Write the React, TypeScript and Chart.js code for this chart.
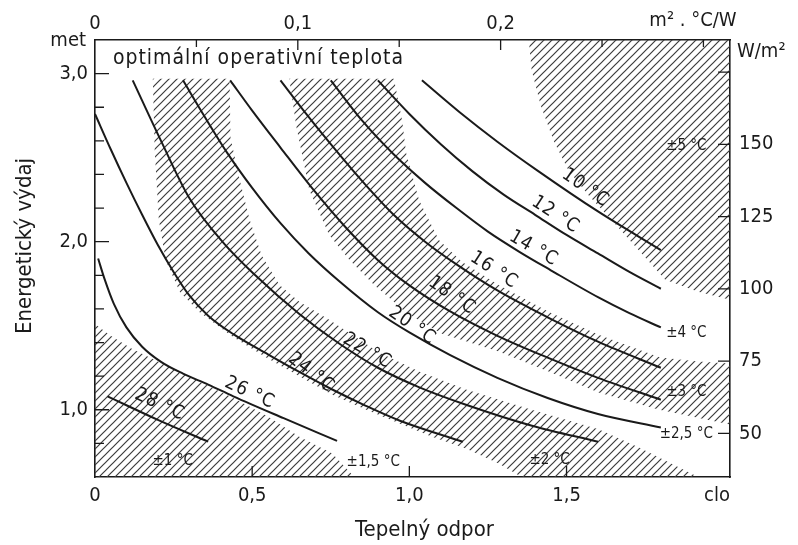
import React, { useEffect, useRef } from "react";
import { Chart, registerables } from "chart.js";

Chart.register(...registerables);

// ---------- axes ----------
const cloRange = [0, 2.02];
const metRange = [0.6, 3.2];
const cloToRes = 0.155; // m2.°C/W per clo
const metToW = 58.15; // W/m2 per met

const cloTicks = [0, 0.5, 1.0, 1.5];
const cloTickLabels = ["0", "0,5", "1,0", "1,5"];
const cloMarks = [0.5, 1.0, 1.5];
const resTicks = [0, 0.1, 0.2];
const resTickLabels = ["0", "0,1", "0,2"];
const resMarks = [0.05, 0.1, 0.15, 0.2, 0.25, 0.3];
const metTicks = [1, 2, 3];
const metTickLabels = ["1,0", "2,0", "3,0"];
const metMarks = [0.8, 1.0, 1.2, 1.4, 1.6, 1.8, 2.0, 2.2, 2.4, 2.6, 2.8, 3.0];
const wTicks = [50, 75, 100, 125, 150];
const wTickLabels = ["50", "75", "100", "125", "150"];
const wMarks = [50, 75, 100, 125, 150, 175];

// ---------- optimal operative temperature curves [clo, met] ----------
const curve10 = [[1.04, 2.96], [1.16, 2.77], [1.28, 2.595], [1.41, 2.42], [1.6, 2.18], [1.8, 1.95]];
const curve12 = [[0.9, 2.96], [1.0, 2.76], [1.1, 2.58], [1.2, 2.42], [1.3, 2.28], [1.4, 2.16], [1.5, 2.04], [1.6, 1.93], [1.7, 1.82], [1.8, 1.72]];
const curve14 = [[0.75, 2.96], [0.85, 2.72], [0.95, 2.52], [1.05, 2.35], [1.15, 2.2], [1.25, 2.06], [1.35, 1.94], [1.45, 1.83], [1.6, 1.67], [1.7, 1.575], [1.8, 1.49]];
const curve16 = [[0.59, 2.96], [0.67, 2.765], [0.75, 2.58], [0.85, 2.36], [0.95, 2.16], [1.05, 2.0], [1.15, 1.865], [1.28, 1.71], [1.44, 1.55], [1.6, 1.405], [1.8, 1.25]];
const curve18 = [[0.43, 2.96], [0.5, 2.78], [0.59, 2.56], [0.69, 2.32], [0.8, 2.08], [0.9, 1.89], [1.0, 1.74], [1.13, 1.585], [1.28, 1.44], [1.44, 1.31], [1.6, 1.19], [1.8, 1.06]];
const curve20 = [[0.28, 2.96], [0.35, 2.74], [0.42, 2.53], [0.5, 2.32], [0.59, 2.11], [0.68, 1.93], [0.78, 1.76], [0.9, 1.58], [1.0, 1.46], [1.13, 1.325], [1.28, 1.19], [1.44, 1.07], [1.6, 0.975], [1.8, 0.895]];
const curve22 = [[0.12, 2.96], [0.21, 2.6], [0.3, 2.26], [0.41, 1.99], [0.51, 1.8], [0.65, 1.57], [0.78, 1.39], [0.9, 1.25], [1.03, 1.135], [1.18, 1.03], [1.39, 0.905], [1.6, 0.81]];
const curve24 = [[0.0, 2.76], [0.05, 2.55], [0.1, 2.35], [0.15, 2.16], [0.2, 1.98], [0.25, 1.82], [0.3, 1.68], [0.36, 1.56], [0.44, 1.45], [0.55, 1.33], [0.65, 1.225], [0.75, 1.125], [0.86, 1.025], [0.97, 0.935], [1.17, 0.81]];
const curve26 = [[0.01, 1.9], [0.03, 1.78], [0.06, 1.63], [0.1, 1.49], [0.15, 1.375], [0.21, 1.285], [0.28, 1.215], [0.36, 1.15], [0.44, 1.08], [0.6, 0.95], [0.77, 0.815]];
const curve28 = [[0.04, 1.08], [0.2, 0.94], [0.36, 0.81]];

// ---------- tolerance zones (hatched) [clo, met] ----------
const zone1 = [[0, 1.51], [0.05, 1.44], [0.12, 1.36], [0.23, 1.26], [0.33, 1.17], [0.44, 1.07], [0.55, 0.96], [0.65, 0.84], [0.755, 0.74], [0.825, 0.6], [0, 0.6]];
const zone2 = [[0.184, 2.97], [0.19, 2.54], [0.203, 2.13], [0.225, 1.89], [0.27, 1.7], [0.333, 1.58], [0.438, 1.435], [0.546, 1.31], [0.65, 1.2], [0.755, 1.09], [0.863, 1.0], [0.967, 0.92], [1.072, 0.84], [1.18, 0.77], [1.284, 0.68], [1.357, 0.6], [1.919, 0.6], [1.729, 0.777], [1.602, 0.884], [1.389, 1.0], [1.18, 1.12], [1.031, 1.228], [0.904, 1.34], [0.745, 1.536], [0.65, 1.643], [0.587, 1.743], [0.53, 1.92], [0.492, 2.13], [0.46, 2.37], [0.431, 2.62], [0.428, 2.97]];
const zone3 = [[0.618, 2.97], [0.641, 2.68], [0.682, 2.306], [0.745, 2.04], [0.809, 1.892], [0.888, 1.743], [0.936, 1.666], [0.99, 1.577], [1.104, 1.453], [1.284, 1.346], [1.443, 1.228], [1.602, 1.103], [1.792, 1.002], [2.02, 0.913], [2.02, 1.275], [1.919, 1.287], [1.798, 1.311], [1.602, 1.447], [1.443, 1.583], [1.284, 1.743], [1.167, 1.88], [1.094, 2.01], [1.031, 2.247], [0.99, 2.526], [0.977, 2.721], [0.951, 2.97]];
const zone5 = [[1.38, 3.2], [1.389, 3.02], [1.418, 2.81], [1.459, 2.6], [1.506, 2.425], [1.57, 2.277], [1.649, 2.117], [1.729, 1.951], [1.814, 1.773], [1.919, 1.702], [2.02, 1.654], [2.02, 3.2]];

// ---------- labels [clo, met, angle] ----------
const curveNames = ["10 °C", "12 °C", "14 °C", "16 °C", "18 °C", "20 °C", "22 °C", "24 °C", "26 °C", "28 °C"];
const curveLabelPos = [[1.56, 2.32, 35], [1.465, 2.16, 33], [1.395, 1.96, 30], [1.269, 1.83, 33], [1.135, 1.68, 35], [1.009, 1.5, 35], [0.866, 1.35, 30], [0.688, 1.22, 38], [0.492, 1.1, 25], [0.206, 1.03, 25]];
const tolNames = ["±5 °C", "±4 °C", "±3 °C", "±2,5 °C", "±2 °C", "±1,5 °C", "±1 °C"];
const tolPos = [[1.881, 2.567], [1.881, 1.459], [1.881, 1.103], [1.881, 0.854], [1.446, 0.7], [0.885, 0.688], [0.247, 0.694]];

const FONT = '"DejaVu Sans Condensed", "Liberation Sans Narrow", "DejaVu Sans", sans-serif';
const INK = "#1a1a1a";

const toPts = (arr: number[][]) => arr.map(([x, y]) => ({ x, y }));

export default function App() {
  const ref = useRef<HTMLCanvasElement | null>(null);

  useEffect(() => {
    const canvas = ref.current;
    if (!canvas) return;
    const ctx = canvas.getContext("2d");
    if (!ctx) return;

    const pc = document.createElement("canvas");
    pc.width = 8;
    pc.height = 8;
    const p = pc.getContext("2d")!;
    p.strokeStyle = "#3c3c3c";
    p.lineWidth = 1.2;
    p.beginPath();
    p.moveTo(-1, 9);
    p.lineTo(9, -1);
    p.moveTo(-3, 3);
    p.lineTo(3, -3);
    p.moveTo(5, 11);
    p.lineTo(11, 5);
    p.stroke();
    const hatch = ctx.createPattern(pc, "repeat");

    const zoneDs = (arr: number[][]) => ({
      data: toPts(arr),
      showLine: true,
      fill: "shape",
      backgroundColor: hatch,
      borderColor: "rgba(0,0,0,0)",
      borderWidth: 0,
      pointRadius: 0,
      tension: 0,
      order: 10,
    });
    const curveDs = (arr: number[][]) => ({
      data: toPts(arr),
      showLine: true,
      fill: false,
      borderColor: INK,
      borderWidth: 2,
      pointRadius: 0,
      cubicInterpolationMode: "monotone",
      order: 1,
    });

    const tickFont = { family: FONT, size: 20 };

    const decor = {
      id: "decor",
      beforeDraw(chart: any) {
        const c = chart.ctx;
        c.save();
        c.fillStyle = "#fff";
        c.fillRect(0, 0, chart.width, chart.height);
        c.restore();
      },
      afterDatasetsDraw(chart: any) {
        const c = chart.ctx;
        const ca = chart.chartArea;
        const sx = chart.scales.x;
        const sx2 = chart.scales.x2;
        const sy = chart.scales.y;
        const sy2 = chart.scales.y2;
        c.save();
        c.strokeStyle = INK;
        c.lineWidth = 1.3;
        c.beginPath();
        metMarks.forEach((v) => {
          const y = sy.getPixelForValue(v);
          const len = metTicks.includes(v) ? 14 : 9;
          c.moveTo(ca.left, y);
          c.lineTo(ca.left + len, y);
        });
        wMarks.forEach((v) => {
          const y = sy2.getPixelForValue(v);
          c.moveTo(ca.right, y);
          c.lineTo(ca.right - 12, y);
        });
        cloMarks.forEach((v) => {
          const x = sx.getPixelForValue(v);
          c.moveTo(x, ca.bottom);
          c.lineTo(x, ca.bottom - 11);
        });
        resMarks.forEach((v) => {
          const x = sx2.getPixelForValue(v);
          c.moveTo(x, ca.top);
          c.lineTo(x, ca.top + (resTicks.includes(v) ? 10 : 7));
        });
        c.stroke();

        c.fillStyle = INK;
        c.textBaseline = "middle";
        // curve labels
        c.font = `19px ${FONT}`;
        (c as any).letterSpacing = "1px";
        c.textAlign = "center";
        curveNames.forEach((name, i) => {
          const [cx, cy, ang] = curveLabelPos[i];
          c.save();
          c.translate(sx.getPixelForValue(cx), sy.getPixelForValue(cy));
          c.rotate((ang * Math.PI) / 180);
          c.fillText(name, 0, 0);
          c.restore();
        });
        // tolerance labels
        c.font = `15px ${FONT}`;
        (c as any).letterSpacing = "0px";
        tolNames.forEach((name, i) => {
          const [cx, cy] = tolPos[i];
          c.fillText(name, sx.getPixelForValue(cx), sy.getPixelForValue(cy));
        });
        // title inside plot
        c.font = `21px ${FONT}`;
        (c as any).letterSpacing = "1px";
        c.textAlign = "left";
        c.fillText("optimální operativní teplota", sx.getPixelForValue(0.057), sy.getPixelForValue(3.09));
        (c as any).letterSpacing = "0px";
        // units
        c.font = `20px ${FONT}`;
        c.textAlign = "right";
        c.fillText("met", ca.left - 9, ca.top + 1);
        c.fillText("clo", ca.right, ca.bottom + 19);
        c.textAlign = "center";
        c.fillText("m² . °C/W", ca.right - 37, 21);
        c.textAlign = "left";
        c.fillText("W/m²", ca.right + 7, ca.top + 12);
        // axis titles
        c.font = `22px ${FONT}`;
        c.textAlign = "center";
        c.fillText("Tepelný odpor", (ca.left + ca.right) / 2 + 12, 530);
        c.save();
        c.translate(25, 246);
        c.rotate(-Math.PI / 2);
        c.fillText("Energetický výdaj", 0, 0);
        c.restore();
        c.restore();
      },
    };

    const axisCommon = (ticks: number[], labels: string[], pad: number) => ({
      type: "linear",
      afterBuildTicks: (s: any) => {
        s.ticks = ticks.map((v) => ({ value: v }));
      },
      ticks: {
        font: tickFont,
        color: INK,
        padding: pad,
        autoSkip: false,
        maxRotation: 0,
        callback: (v: number) => {
          const i = ticks.findIndex((t) => Math.abs(t - v) < 1e-9);
          return i >= 0 ? labels[i] : "";
        },
      },
      grid: { display: false, drawTicks: false },
      border: { display: true, color: INK, width: 1.6 },
    });

    const chart = new Chart(ctx, {
      type: "scatter",
      data: {
        datasets: [
          curveDs(curve10),
          curveDs(curve12),
          curveDs(curve14),
          curveDs(curve16),
          curveDs(curve18),
          curveDs(curve20),
          curveDs(curve22),
          curveDs(curve24),
          curveDs(curve26),
          curveDs(curve28),
          zoneDs(zone1),
          zoneDs(zone2),
          zoneDs(zone3),
          zoneDs(zone5),
        ] as any,
      },
      options: {
        animation: false,
        responsive: false,
        events: [],
        layout: { padding: 0 },
        plugins: { legend: { display: false }, tooltip: { enabled: false } },
        scales: {
          x: {
            ...axisCommon(cloTicks, cloTickLabels, 7),
            position: "bottom",
            min: cloRange[0],
            max: cloRange[1],
            afterFit: (s: any) => {
              s.height = 68;
            },
          },
          x2: {
            ...axisCommon(resTicks, resTickLabels, 4),
            position: "top",
            min: cloRange[0] * cloToRes,
            max: cloRange[1] * cloToRes,
            afterFit: (s: any) => {
              s.height = 40;
            },
          },
          y: {
            ...axisCommon(metTicks, metTickLabels, 7),
            position: "left",
            min: metRange[0],
            max: metRange[1],
            afterFit: (s: any) => {
              s.width = 95;
            },
          },
          y2: {
            ...axisCommon(wTicks, wTickLabels, 9),
            position: "right",
            min: metRange[0] * metToW,
            max: metRange[1] * metToW,
            afterFit: (s: any) => {
              s.width = 68;
            },
          },
        } as any,
      },
      plugins: [decor],
    });
    return () => chart.destroy();
  }, []);

  return (
    <canvas
      ref={ref}
      width={798}
      height={545}
      style={{ position: "fixed", left: 0, top: 0, width: 798, height: 545 }}
    />
  );
}
